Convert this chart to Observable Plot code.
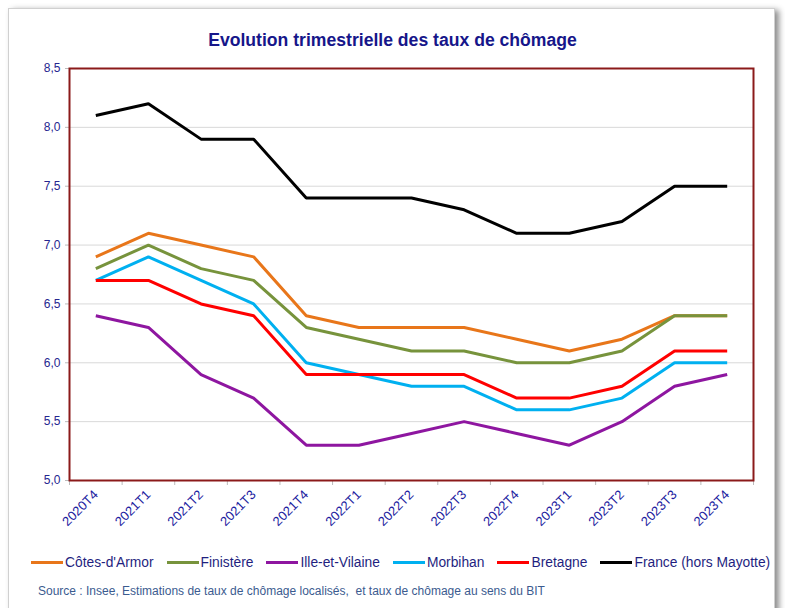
<!DOCTYPE html>
<html><head><meta charset="utf-8">
<script src="https://cdn.jsdelivr.net/npm/d3@7"></script>
<script src="https://cdn.jsdelivr.net/npm/@observablehq/plot@0.6"></script>
<style>
body{margin:0;background:#fff;font-family:"Liberation Sans",Arial,sans-serif;width:785px;height:608px;overflow:hidden;position:relative}
#panel{position:absolute;left:8px;top:8px;width:765px;height:620px;border:1px solid #d0d0d0;box-shadow:4px 2px 6px rgba(0,0,0,0.45);background:#fff}
#title{position:absolute;left:0;width:785px;top:30px;text-align:center;font-weight:bold;font-size:17.6px;color:#16168a}
#chart{position:absolute;left:0;top:50px}
#legend{position:absolute;top:555px;left:31px;display:flex;align-items:center;font-size:13.8px;color:#1f1f80;white-space:nowrap}
#legend .it{display:flex;align-items:center;margin-right:13px}
#legend .sw{display:inline-block;width:32px;height:3px;margin-right:2px}
#source{position:absolute;left:38px;top:584px;font-size:12px;color:#3b5b8f;white-space:nowrap}
svg text{font-family:"Liberation Sans",Arial,sans-serif}
</style></head><body>
<div id="panel"></div>
<div id="title">Evolution trimestrielle des taux de chômage</div>
<div id="chart"></div>
<div id="legend"></div>
<div id="source">Source : Insee, Estimations de taux de chômage localisés,&nbsp; et taux de chômage au sens du BIT</div>
<script>
const quarters = ["2020T4","2021T1","2021T2","2021T3","2021T4","2022T1","2022T2","2022T3","2022T4","2023T1","2023T2","2023T3","2023T4"];
const seriesNames = ["Côtes-d'Armor","Finistère","Ille-et-Vilaine","Morbihan","Bretagne","France (hors Mayotte)"];
const seriesColors = ["#E8761A","#77933C","#8E16A0","#00B0F0","#FF0000","#000000"];
const cotesDArmor   = [6.9,7.1,7.0,6.9,6.4,6.3,6.3,6.3,6.2,6.1,6.2,6.4,6.4];
const finistere     = [6.8,7.0,6.8,6.7,6.3,6.2,6.1,6.1,6.0,6.0,6.1,6.4,6.4];
const illeEtVilaine = [6.4,6.3,5.9,5.7,5.3,5.3,5.4,5.5,5.4,5.3,5.5,5.8,5.9];
const morbihan      = [6.7,6.9,6.7,6.5,6.0,5.9,5.8,5.8,5.6,5.6,5.7,6.0,6.0];
const bretagne      = [6.7,6.7,6.5,6.4,5.9,5.9,5.9,5.9,5.7,5.7,5.8,6.1,6.1];
const france        = [8.1,8.2,7.9,7.9,7.4,7.4,7.4,7.3,7.1,7.1,7.2,7.5,7.5];
const yTicks = [5.0,5.5,6.0,6.5,7.0,7.5,8.0,8.5];

const allValues = [cotesDArmor, finistere, illeEtVilaine, morbihan, bretagne, france];
const data = [];
allValues.forEach((vals, s) => vals.forEach((v, i) => data.push({series: seriesNames[s], i, q: quarters[i], v})));

const idx = quarters.map((_, i) => i);
const bounds = d3.range(-0.5, quarters.length, 1);

const chart = Plot.plot({
  width: 785,
  height: 495,
  marginTop: 18,
  marginBottom: 65,
  marginLeft: 69,
  marginRight: 32,
  style: {fontFamily: '"Liberation Sans", Arial, sans-serif', background: "transparent"},
  x: {type: "linear", domain: [-0.5, quarters.length - 0.5]},
  y: {domain: [5, 8.5]},
  color: {domain: seriesNames, range: seriesColors},
  marks: [
    Plot.gridY(yTicks, {stroke: "#d9d9d9", strokeOpacity: 1, strokeWidth: 1}),
    Plot.axisY(yTicks, {tickFormat: d => d.toFixed(1).replace(".", ","), tickSize: 4, tickPadding: 5, stroke: "#bbbbbb", fill: "#26268f", fontSize: 12, label: null}),
    Plot.axisX(bounds, {tickSize: 5, stroke: "#bbbbbb", tickFormat: () => "", label: null}),
    Plot.axisX(idx, {tickSize: 0, tickPadding: 12, tickRotate: -45, tickFormat: i => quarters[i], fill: "#1c1ca0", fontSize: 13, label: null}),
    Plot.line(data, {x: "i", y: "v", z: "series", stroke: "series", strokeWidth: 3, strokeLinejoin: "miter", strokeLinecap: "butt"}),
    Plot.frame({stroke: "#8b1a1a", strokeWidth: 2})
  ]
});
document.getElementById("chart").appendChild(chart);

const legend = document.getElementById("legend");
seriesNames.forEach((n, k) => {
  const it = document.createElement("div");
  it.className = "it";
  const sw = document.createElement("span");
  sw.className = "sw";
  sw.style.background = seriesColors[k];
  const t = document.createElement("span");
  t.textContent = n;
  it.appendChild(sw); it.appendChild(t);
  legend.appendChild(it);
});
</script>
</body></html>
